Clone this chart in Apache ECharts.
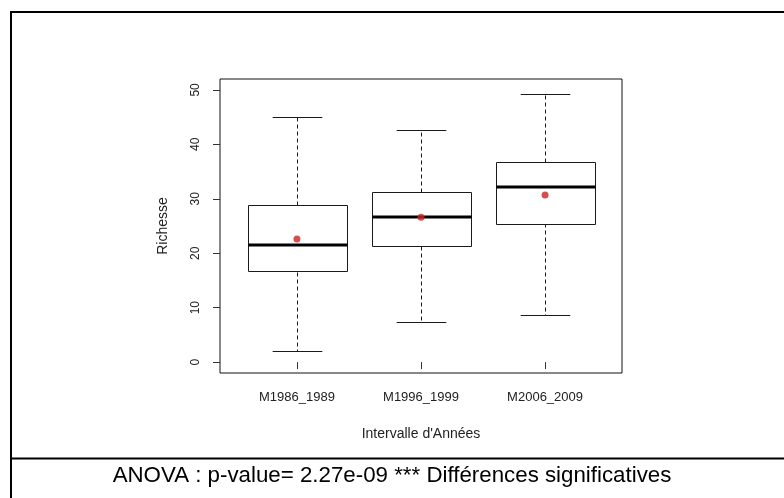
<!DOCTYPE html>
<html>
<head>
<meta charset="utf-8">
<script src="https://cdn.jsdelivr.net/npm/echarts@6/dist/echarts.min.js"></script>
<style>
  html, body { margin: 0; padding: 0; background: #fff; }
  #chart { width: 784px; height: 498px; }
</style>
</head>
<body>
<div id="chart"></div>
<script>
// ---- data ----
const categories  = ['M1986_1989', 'M1996_1999', 'M2006_2009'];
const whiskerLow  = [2.1, 7.4, 8.6];
const q1          = [16.6, 21.3, 25.5];
const median      = [21.5, 26.6, 32.2];
const q3          = [28.8, 31.3, 36.8];
const whiskerHigh = [45.1, 42.6, 49.2];
const means       = [22.6, 26.6, 30.7];
const yTicks      = [0, 10, 20, 30, 40, 50];
const xTicks      = [1, 2, 3];
const caption     = 'ANOVA : p-value= 2.27e-09 *** Différences significatives';

const boxData = categories.map((c, i) => [i + 1, whiskerLow[i], q1[i], median[i], q3[i], whiskerHigh[i]]);
const meanData = categories.map((c, i) => [i + 1, means[i]]);

const FONT = '"Liberation Sans", Arial, sans-serif';
const chart = echarts.init(document.getElementById('chart'), null, { renderer: 'canvas' });

function renderBox(params, api) {
  const x = api.value(0);
  const lo = api.coord([x, api.value(1)]);
  const b1 = api.coord([x, api.value(2)]);
  const md = api.coord([x, api.value(3)]);
  const b3 = api.coord([x, api.value(4)]);
  const hi = api.coord([x, api.value(5)]);
  const bw = api.size([0.8, 0])[0];
  const cw = api.size([0.4, 0])[0];
  const cx = Math.round(md[0]) + 0.5;
  const r = v => Math.round(v) + 0.5;
  const lineStyle = { stroke: '#1a1a1a', lineWidth: 1, fill: null };
  const dashStyle = { stroke: '#1a1a1a', lineWidth: 1, lineDash: [4, 3], fill: null };
  return {
    type: 'group',
    children: [
      { type: 'line', shape: { x1: cx, y1: r(b3[1]), x2: cx, y2: r(hi[1]) }, style: dashStyle },
      { type: 'line', shape: { x1: cx, y1: r(b1[1]), x2: cx, y2: r(lo[1]) }, style: dashStyle },
      { type: 'line', shape: { x1: cx - cw / 2, y1: r(hi[1]), x2: cx + cw / 2, y2: r(hi[1]) }, style: lineStyle },
      { type: 'line', shape: { x1: cx - cw / 2, y1: r(lo[1]), x2: cx + cw / 2, y2: r(lo[1]) }, style: lineStyle },
      { type: 'rect', shape: { x: r(cx - bw / 2), y: r(b3[1]), width: Math.round(bw), height: Math.round(b1[1] - b3[1]) },
        style: { stroke: '#1a1a1a', lineWidth: 1, fill: '#fff' } },
      { type: 'line', shape: { x1: r(cx - bw / 2), y1: Math.round(md[1]), x2: r(cx - bw / 2) + Math.round(bw), y2: Math.round(md[1]) },
        style: { stroke: '#000', lineWidth: 3 } }
    ]
  };
}

const option = {
  animation: false,
  backgroundColor: '#fff',
  grid: { left: 220, top: 79, width: 402, height: 294, show: true, borderColor: '#111', borderWidth: 1, backgroundColor: 'transparent' },
  xAxis: {
    type: 'value', min: 0.38, max: 3.62,
    name: "Intervalle d'Années", nameLocation: 'middle', nameGap: 54,
    nameTextStyle: { fontFamily: FONT, fontSize: 14, color: '#222' },
    axisLine: { show: false },
    axisTick: { show: true, inside: false, length: 7, customValues: xTicks, lineStyle: { color: '#333' } },
    axisLabel: { show: true, margin: 18, customValues: xTicks, fontFamily: FONT, fontSize: 13, color: '#222',
                 formatter: v => categories[Math.round(v) - 1] || '' },
    splitLine: { show: false }
  },
  yAxis: {
    type: 'value', min: -2, max: 52,
    name: 'Richesse', nameLocation: 'middle', nameGap: 50, nameRotate: 90,
    nameTextStyle: { fontFamily: FONT, fontSize: 14, color: '#222' },
    axisLine: { show: false },
    axisTick: { show: true, inside: false, length: 7, customValues: yTicks, lineStyle: { color: '#333' } },
    axisLabel: { show: true, rotate: 90, margin: 18, customValues: yTicks, fontFamily: FONT, fontSize: 12, color: '#222' },
    splitLine: { show: false }
  },
  series: [
    { type: 'custom', renderItem: renderBox, data: boxData, encode: { x: 0, y: [1, 2, 3, 4, 5] }, z: 2 },
    { type: 'scatter', data: meanData, symbol: 'circle', symbolSize: 7, itemStyle: { color: '#cc2222' }, z: 5 }
  ],
  graphic: [
    { type: 'polyline', shape: { points: [[11, 500], [11, 12], [790, 12]] }, style: { stroke: '#000', lineWidth: 2, fill: null } },
    { type: 'line', shape: { x1: 11, y1: 458.5, x2: 790, y2: 458.5 }, style: { stroke: '#000', lineWidth: 2 } },
    { type: 'text', x: 392, y: 476, style: { text: caption, fontFamily: FONT, fontSize: 22.3, fill: '#000', textAlign: 'center', textVerticalAlign: 'middle' } }
  ]
};
chart.setOption(option);
</script>
</body>
</html>
